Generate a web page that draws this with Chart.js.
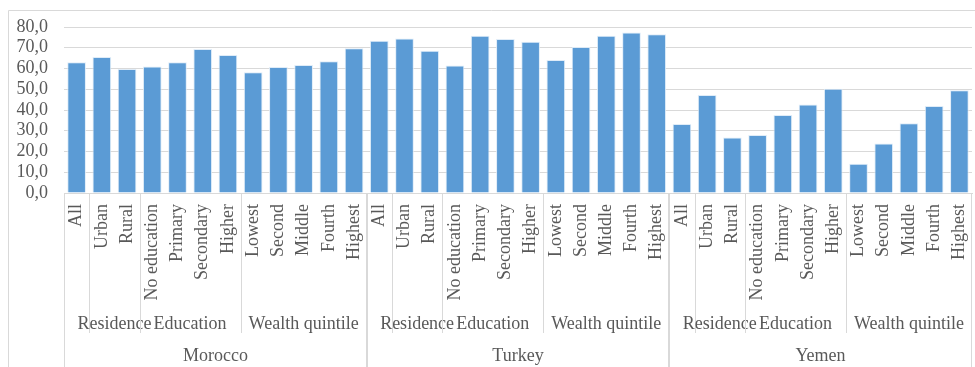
<!DOCTYPE html>
<html>
<head>
<meta charset="utf-8">
<script src="https://cdn.jsdelivr.net/npm/chart.js@4/dist/chart.umd.min.js"></script>
<style>
  html, body { margin: 0; padding: 0; background: #fff; }
  #wrap { width: 975px; height: 367px; position: relative; }
</style>
</head>
<body>
<div id="wrap"><canvas id="barChart"></canvas></div>
<script>
// kategorier per land
const categories = ["All", "Urban", "Rural", "No education", "Primary", "Secondary", "Higher",
  "Lowest", "Second", "Middle", "Fourth", "Highest"];
// grupper under kategorierna (antal staplar i varje)
const groupNames = ["", "Residence", "Education", "Wealth quintile"];
const groupSizes = [1, 2, 4, 5];
const countries = ["Morocco", "Turkey", "Yemen"];

const moroccoValues = [63.0, 65.5, 59.8, 61.0, 63.0, 69.4, 66.5, 58.2, 60.7, 61.7, 63.5, 69.7];
const turkeyValues = [73.4, 74.5, 68.6, 61.4, 75.8, 74.2, 72.9, 64.1, 70.4, 75.8, 77.3, 76.5];
const yemenValues = [33.3, 47.2, 26.8, 28.0, 37.6, 42.6, 50.3, 14.1, 23.8, 33.6, 41.9, 49.5];

const yTicks = [0, 10, 20, 30, 40, 50, 60, 70, 80];

const textColor = "#595959";
const lineColor = "#d9d9d9";
const fontFamily = "'Liberation Serif', serif";

const labels = countries.flatMap(() => categories);
const values = [...moroccoValues, ...turkeyValues, ...yemenValues];

/**
 * Ritar gruppnamn, landnamn och skiljelinjer under x-axeln
 */
const groupAxisPlugin = {
  id: "groupAxis",
  afterDraw(chart) {
    const ctx = chart.ctx;
    const x = chart.scales.x;
    const axisY = chart.chartArea.bottom;
    const edge = (i) => x.getPixelForValue(i - 0.5);
    const groupBottom = 333;
    const bottom = chart.height;

    ctx.save();
    ctx.strokeStyle = lineColor;
    ctx.lineWidth = 1;

    // ram runt diagrammet
    ctx.beginPath();
    ctx.moveTo(8.5, chart.height);
    ctx.lineTo(8.5, 10.5);
    ctx.lineTo(chart.width, 10.5);
    ctx.stroke();

    ctx.fillStyle = textColor;
    ctx.textBaseline = "middle";
    ctx.textAlign = "center";
    ctx.font = "18px " + fontFamily;

    let start = 0;
    countries.forEach((country) => {
      let g = start;
      groupSizes.forEach((size, k) => {
        if (k > 0) {
          const gx = Math.round(edge(g)) + 0.5;
          ctx.beginPath();
          ctx.moveTo(gx, axisY);
          ctx.lineTo(gx, groupBottom);
          ctx.stroke();
        }
        if (groupNames[k]) {
          const cx = (edge(g) + edge(g + size)) / 2;
          ctx.fillText(groupNames[k], cx, 324);
        }
        g += size;
      });
      const left = Math.round(edge(start)) + 0.5;
      const right = Math.round(edge(start + categories.length)) - 0.5;
      ctx.beginPath();
      ctx.moveTo(left, axisY);
      ctx.lineTo(left, bottom);
      ctx.moveTo(right, axisY);
      ctx.lineTo(right, bottom);
      ctx.stroke();
      ctx.fillText(country, (left + right) / 2, 356);
      start += categories.length;
    });
    ctx.restore();
  },
};

const ctx = document.getElementById("barChart").getContext("2d");
new Chart(ctx, {
  type: "bar",
  data: {
    labels: labels,
    datasets: [
      {
        data: values,
        backgroundColor: "#5b9bd5",
        borderColor: "rgba(220, 234, 247, 0.9)",
        borderWidth: 1,
        barPercentage: 0.74,
        categoryPercentage: 1.0,
      },
    ],
  },
  options: {
    responsive: true,
    maintainAspectRatio: false,
    animation: false,
    layout: { padding: { top: 27, right: 3, left: 0, bottom: 0 } },
    plugins: {
      legend: { display: false },
      tooltip: { enabled: false },
    },
    scales: {
      x: {
        grid: { display: false, drawTicks: false },
        border: { display: true, color: lineColor },
        ticks: {
          autoSkip: false,
          minRotation: 90,
          maxRotation: 90,
          padding: 11,
          color: textColor,
          font: { family: fontFamily, size: 18 },
        },
        afterFit(scale) {
          scale.height = 174;
          scale.paddingLeft = 0;
          scale.paddingRight = 0;
        },
      },
      y: {
        min: 0,
        max: 80,
        afterBuildTicks(scale) {
          scale.ticks = yTicks.map((v) => ({ value: v }));
        },
        grid: { color: lineColor, drawTicks: false },
        border: { display: false },
        ticks: {
          autoSkip: false,
          padding: 16,
          color: textColor,
          font: { family: fontFamily, size: 18 },
          callback: (v) => v.toFixed(1).replace(".", ","),
        },
        afterFit(scale) {
          scale.width = 64;
          scale.paddingTop = 0;
          scale.paddingBottom = 0;
        },
      },
    },
  },
  plugins: [groupAxisPlugin],
});
</script>
</body>
</html>
